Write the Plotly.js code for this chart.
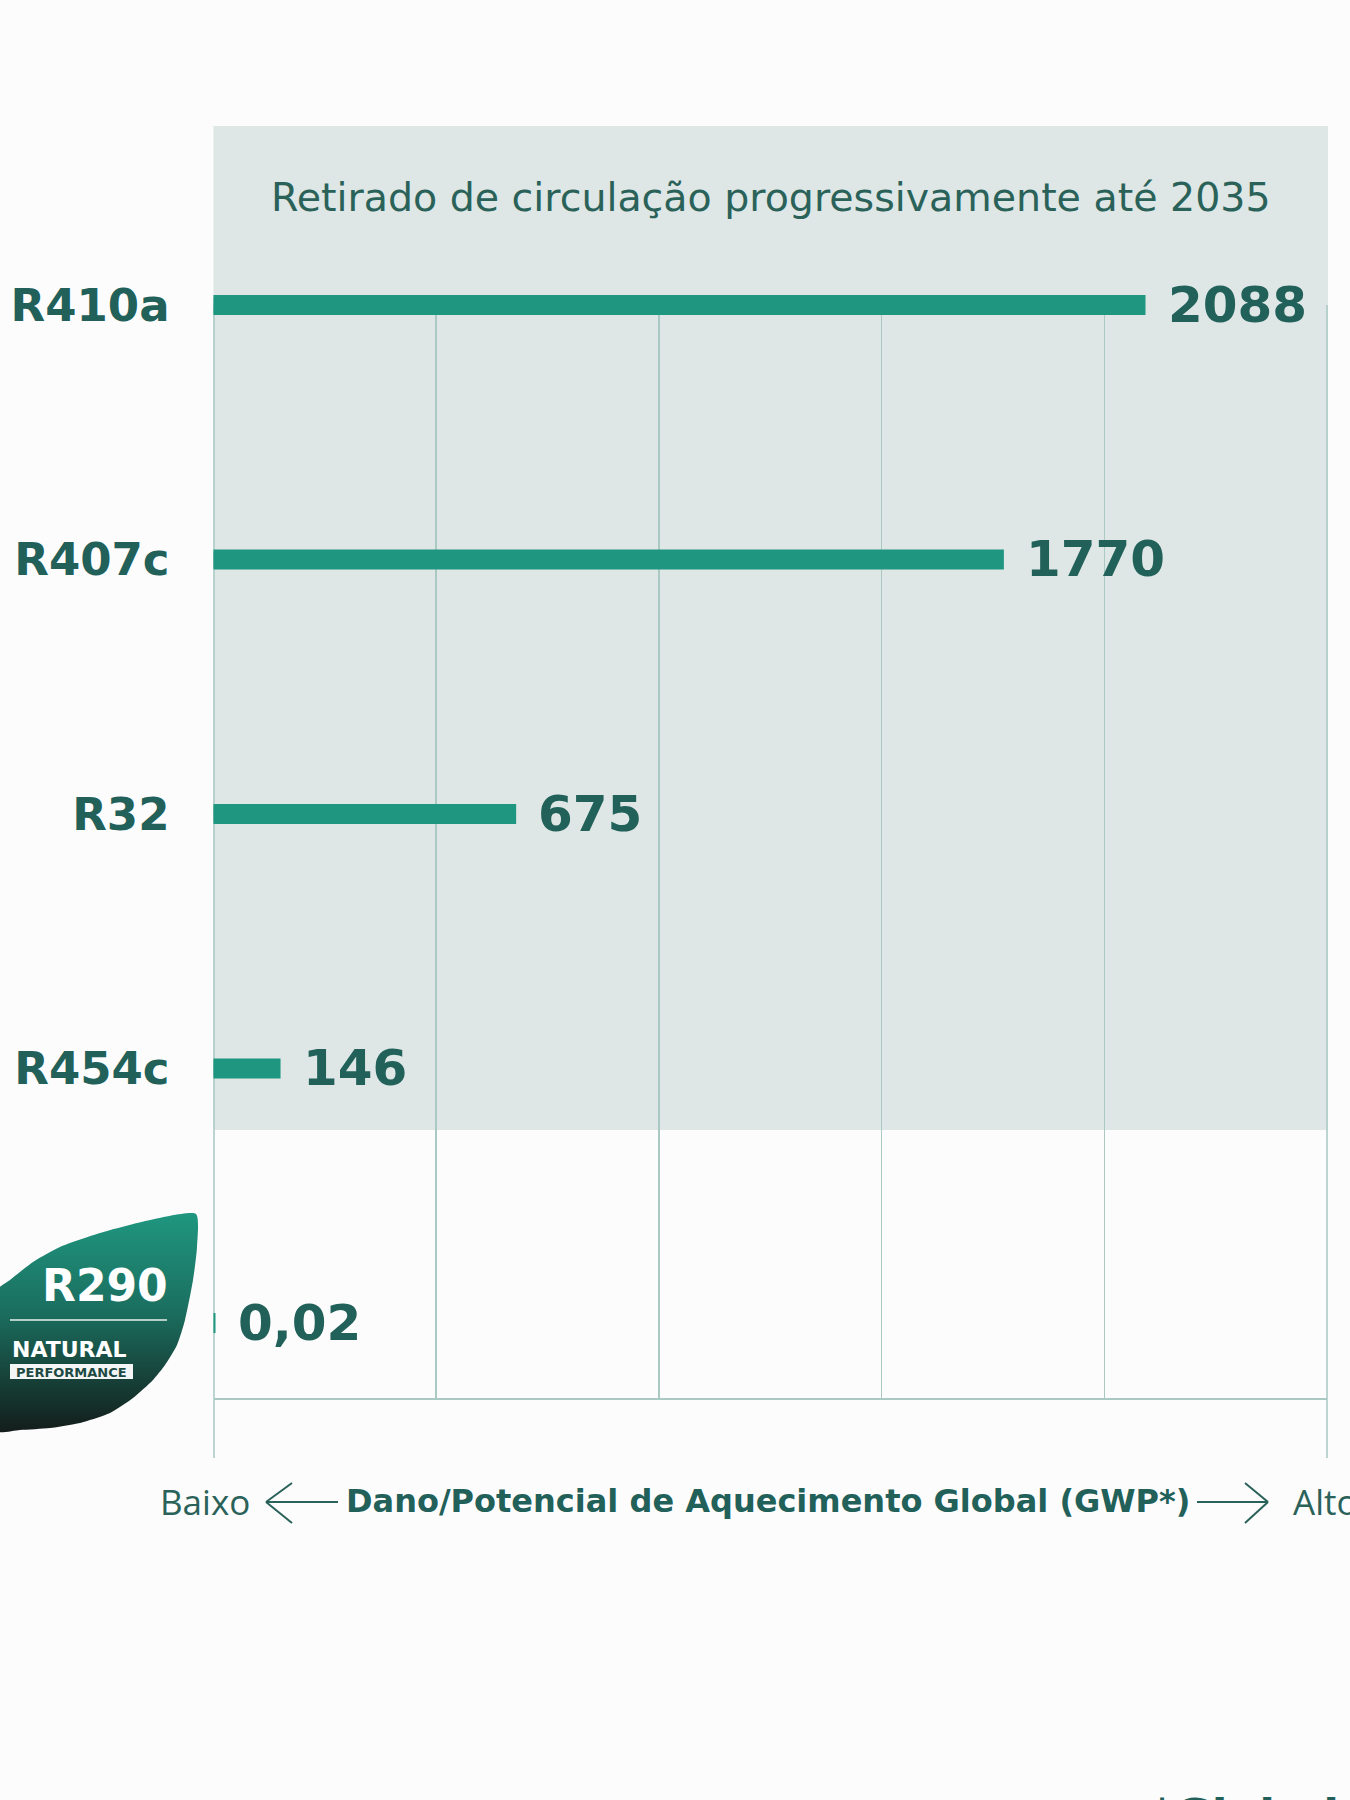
<!DOCTYPE html>
<html>
<head>
<meta charset="utf-8">
<script src="https://cdn.plot.ly/plotly-3.0.1.min.js"></script>
<style>html,body{margin:0;padding:0;background:#fcfcfc;}</style>
</head>
<body>
<div id="chart" style="width:1350px;height:1800px;"></div>
<script>
// ---- data ----
const refrigerants = ['R410a', 'R407c', 'R32', 'R454c', 'R290'];
const gwpValues = [2088, 1770, 675, 146, 0.02];
const badgeRefrigerant = 'R290';
const xTicks = [0, 500, 1000, 1500, 2000, 2500];
const shadedTitle = 'Retirado de circulação progressivamente até 2035';
const axisTitle = 'Dano/Potencial de Aquecimento Global (GWP*)';
const axisLow = 'Baixo';
const axisHigh = 'Alto';
const badgeWord1 = 'NATURAL';
const badgeWord2 = 'PERFORMANCE';
const footnote = '*Global Warming Potential';

// ---- style ----
const W = 1350, H = 1800;
const px = x => x / W;
const py = y => 1 - y / H;
const BAR = '#1e9680';
const TEXT = '#22605a';
const TEXT2 = '#2a625a';
const GRID = '#a9c9c2';
const SHADE = '#dee7e5';

// leaf badge outline (decoration, page pixels)
const leafX = [196, 150, 100, 60, 33, 10, -5, -5, 20, 50, 80, 110, 133, 153, 165, 177, 185, 193, 197, 196];
const leafY = [1214, 1220, 1233, 1247, 1262, 1280, 1292, 1431, 1430, 1428, 1423, 1413, 1398, 1380, 1365, 1345, 1320, 1280, 1247, 1214];

const fmt = v => String(v).replace('.', ',');

const traces = [
  {
    type: 'bar', orientation: 'h',
    x: gwpValues, y: refrigerants,
    width: 0.063,
    marker: {color: BAR, line: {color: BAR, width: 4}},
    cliponaxis: false, hoverinfo: 'skip',
    xaxis: 'x', yaxis: 'y'
  },
  {
    type: 'scatter', mode: 'lines',
    x: leafX, y: leafY, xaxis: 'x2', yaxis: 'y2',
    fill: 'toself', fillcolor: '#1e8a75',
    fillgradient: {type: 'vertical', start: 1214, stop: 1432,
      colorscale: [[0, '#1f967f'], [0.45, '#1b6e5f'], [1, '#131d1a']]},
    line: {width: 0, color: 'rgba(0,0,0,0)', shape: 'spline', smoothing: 0.6},
    hoverinfo: 'skip'
  }
];

const shapes = [
  // shaded "phase-out" region
  {type: 'rect', xref: 'paper', yref: 'paper', x0: px(213.5), x1: px(1328), y0: py(1130), y1: py(126),
   fillcolor: SHADE, line: {width: 0}, layer: 'below'},
  // outer vertical lines extending below axis
  {type: 'line', xref: 'paper', yref: 'paper', x0: px(214), x1: px(214), y0: py(305), y1: py(1458),
   line: {color: GRID, width: 1.5}, layer: 'below'},
  {type: 'line', xref: 'paper', yref: 'paper', x0: px(1327), x1: px(1327), y0: py(305), y1: py(1458),
   line: {color: GRID, width: 1.5}, layer: 'below'},
  // badge separator line and label box
  {type: 'line', xref: 'paper', yref: 'paper', x0: px(10), x1: px(167), y0: py(1320), y1: py(1320),
   line: {color: '#e8f0ee', width: 1.5}, layer: 'above'},
  {type: 'rect', xref: 'paper', yref: 'paper', x0: px(10), x1: px(133), y0: py(1379), y1: py(1364),
   fillcolor: '#f4f6f5', line: {width: 0}, layer: 'above'},
  // arrows on axis caption
  {type: 'line', xref: 'paper', yref: 'paper', x0: px(266), x1: px(338), y0: py(1502), y1: py(1502), line: {color: TEXT2, width: 2}},
  {type: 'line', xref: 'paper', yref: 'paper', x0: px(266), x1: px(292), y0: py(1502), y1: py(1483), line: {color: TEXT2, width: 2}},
  {type: 'line', xref: 'paper', yref: 'paper', x0: px(266), x1: px(292), y0: py(1502), y1: py(1523), line: {color: TEXT2, width: 2}},
  {type: 'line', xref: 'paper', yref: 'paper', x0: px(1197), x1: px(1268), y0: py(1502), y1: py(1502), line: {color: TEXT2, width: 2}},
  {type: 'line', xref: 'paper', yref: 'paper', x0: px(1268), x1: px(1245), y0: py(1502), y1: py(1483), line: {color: TEXT2, width: 2}},
  {type: 'line', xref: 'paper', yref: 'paper', x0: px(1268), x1: px(1245), y0: py(1502), y1: py(1523), line: {color: TEXT2, width: 2}}
];

const annotations = [];
// value labels
refrigerants.forEach((r, i) => {
  annotations.push({
    xref: 'x', yref: 'y', x: gwpValues[i], y: r,
    text: fmt(gwpValues[i]), showarrow: false,
    xanchor: 'left', yanchor: 'middle', xshift: 22,
    font: {family: 'DejaVu Sans', size: 50, color: TEXT, weight: 'bold'}
  });
});
// shaded region title
annotations.push({xref: 'paper', yref: 'paper', x: px(771), y: py(197), text: shadedTitle, showarrow: false,
  xanchor: 'center', yanchor: 'middle', font: {family: 'DejaVu Sans', size: 39.5, color: TEXT2}});
// badge texts
annotations.push({xref: 'paper', yref: 'paper', x: px(105), y: py(1285), text: badgeRefrigerant, showarrow: false,
  xanchor: 'center', yanchor: 'middle', font: {family: 'DejaVu Sans', size: 44, color: '#ffffff', weight: 'bold'}});
annotations.push({xref: 'paper', yref: 'paper', x: px(69), y: py(1349), text: badgeWord1, showarrow: false,
  xanchor: 'center', yanchor: 'middle', font: {family: 'DejaVu Sans', size: 22, color: '#ffffff', weight: 'bold'}});
annotations.push({xref: 'paper', yref: 'paper', x: px(71.5), y: py(1372), text: badgeWord2, showarrow: false,
  xanchor: 'center', yanchor: 'middle', font: {family: 'DejaVu Sans', size: 13, color: '#1d4a43', weight: 'bold'}});
// axis caption
annotations.push({xref: 'paper', yref: 'paper', x: px(158), y: py(1501), text: axisLow, showarrow: false,
  xanchor: 'left', yanchor: 'middle', font: {family: 'Open Sans', size: 35, color: TEXT2}});
annotations.push({xref: 'paper', yref: 'paper', x: px(767.5), y: py(1501), text: axisTitle, showarrow: false,
  xanchor: 'center', yanchor: 'middle', font: {family: 'DejaVu Sans', size: 32, color: TEXT, weight: 'bold'}});
annotations.push({xref: 'paper', yref: 'paper', x: px(1291), y: py(1501), text: axisHigh, showarrow: false,
  xanchor: 'left', yanchor: 'middle', font: {family: 'Open Sans', size: 35, color: TEXT2}});
// footnote (cut by page edge)
annotations.push({xref: 'paper', yref: 'paper', x: px(1148), y: py(1787), text: footnote, showarrow: false,
  xanchor: 'left', yanchor: 'top', font: {family: 'DejaVu Sans', size: 46, color: TEXT, weight: 'bold'}});

const layout = {
  width: W, height: H,
  margin: {l: 0, r: 0, t: 0, b: 0, pad: 0},
  paper_bgcolor: '#fcfcfc', plot_bgcolor: 'rgba(0,0,0,0)',
  showlegend: false,
  xaxis: {
    domain: [px(213.5), px(1327)], range: [0, 2500], anchor: 'y',
    tickmode: 'array', tickvals: xTicks, showticklabels: false, ticks: '',
    showgrid: true, gridcolor: GRID, gridwidth: 1.5,
    zeroline: false, showline: true, linecolor: GRID, linewidth: 2, fixedrange: true
  },
  yaxis: {
    domain: [py(1398), py(295)], anchor: 'x',
    type: 'category', categoryorder: 'array', categoryarray: refrigerants,
    range: [4.295, -0.0393],
    tickmode: 'array', tickvals: refrigerants,
    ticktext: refrigerants.map(r => r === badgeRefrigerant ? '' : r),
    ticks: 'outside', ticklen: 34, tickcolor: 'rgba(0,0,0,0)',
    tickfont: {family: 'DejaVu Sans', size: 45, color: TEXT, weight: 'bold'},
    showgrid: false, zeroline: false, showline: false, fixedrange: true
  },
  xaxis2: {domain: [0, 1], range: [0, W], anchor: 'y2', visible: false, fixedrange: true},
  yaxis2: {domain: [0, 1], range: [H, 0], anchor: 'x2', visible: false, fixedrange: true},
  shapes: shapes,
  annotations: annotations
};

Plotly.newPlot('chart', traces, layout, {staticPlot: true, displayModeBar: false});
</script>
</body>
</html>
